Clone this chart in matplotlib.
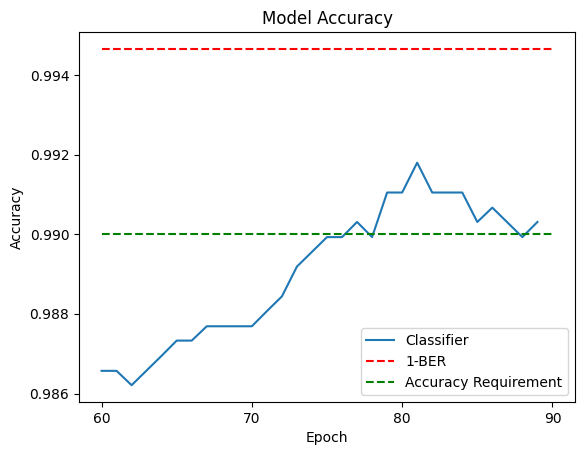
import matplotlib
matplotlib.use('Agg')
from matplotlib import pyplot as plt

epochs = list(range(60, 90))
accuracy = [0.98657, 0.98657, 0.98621, 0.98658, 0.98695, 0.98733, 0.98733, 0.98769,
            0.98769, 0.98769, 0.98769, 0.98807, 0.98844, 0.98919, 0.98956, 0.98993,
            0.98993, 0.99031, 0.98993, 0.99105, 0.99105, 0.99180, 0.99105, 0.99105,
            0.99105, 0.99031, 0.99067, 0.99030, 0.98993, 0.99031]
ber_x = [60, 90]
one_minus_ber = 0.99466
requirement = 0.990
xticks = [60, 70, 80, 90]

fig = plt.figure(figsize=(5.85, 4.55), dpi=100)
ax = fig.add_axes([79 / 585, 53 / 455, 496 / 585, 370 / 455])

ax.plot(epochs, accuracy, label='Classifier')
ax.plot(ber_x, [one_minus_ber] * 2, 'r--', label='1-BER')
ax.plot(ber_x, [requirement] * 2, 'g--', label='Accuracy Requirement')

ax.set_xticks(xticks)
ax.set_title('Model Accuracy')
ax.set_xlabel('Epoch')
ax.set_ylabel('Accuracy')
ax.legend(loc='lower right')

fig.savefig('out.png')
